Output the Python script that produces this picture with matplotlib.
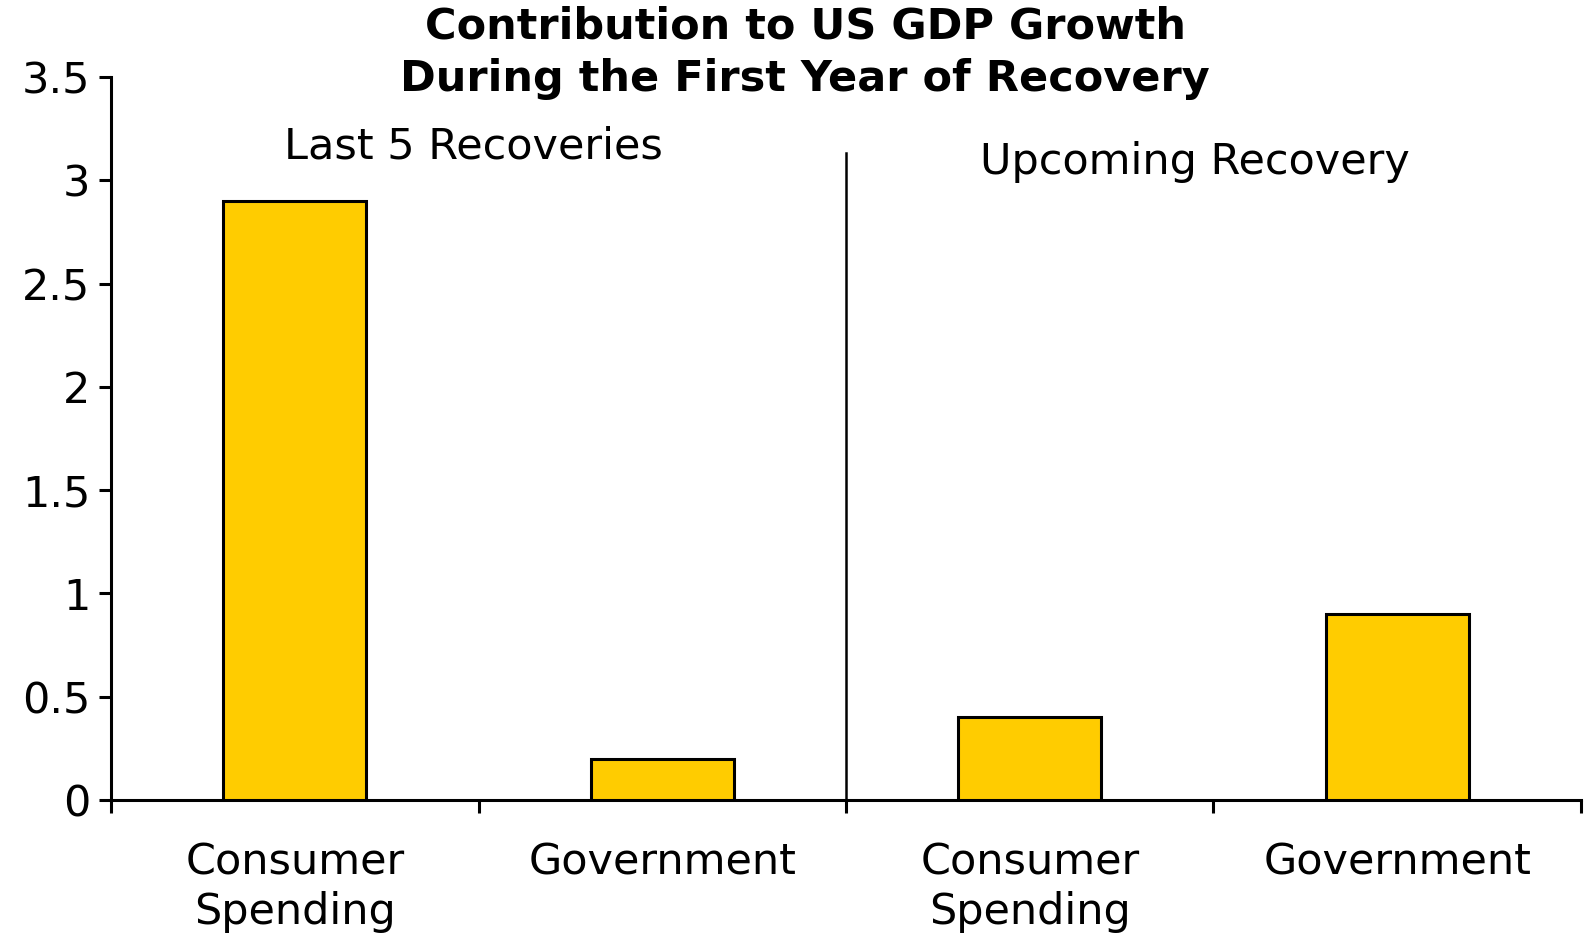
import matplotlib
matplotlib.use("Agg")
import matplotlib.pyplot as plt
import numpy as np

categories = ["Consumer\nSpending", "Government", "Consumer\nSpending", "Government"]
values = [2.9, 0.2, 0.4, 0.9]
groups = ["Last 5 Recoveries", "Upcoming Recovery"]
yticks = [0, 0.5, 1, 1.5, 2, 2.5, 3, 3.5]
ytick_labels = ["0", "0.5", "1", "1.5", "2", "2.5", "3", "3.5"]

plt.rcParams["font.family"] = "DejaVu Sans"

fig = plt.figure(figsize=(15.91, 9.36), dpi=100)
ax = fig.add_axes([0.0698, 0.1453, 0.9239, 0.7724])

x = np.arange(len(categories))
ax.bar(x, values, width=0.39, color="#FFCC00", edgecolor="black", linewidth=2.2, zorder=3)

ax.set_xlim(-0.5, len(categories) - 0.5)
ax.set_ylim(0, 3.5)
ax.set_yticks(yticks)
ax.set_yticklabels(ytick_labels, fontsize=31)

# подписи категорий по центру, засечки на границах
ax.set_xticks(x)
ax.set_xticklabels(categories, fontsize=31, linespacing=1.22)
ax.set_xticks(np.arange(-0.5, len(categories)), minor=True)
ax.tick_params(axis="x", which="major", length=0, pad=30)
ax.tick_params(axis="x", which="minor", length=9, width=2.2, direction="out")
ax.tick_params(axis="y", length=9, width=2.2, pad=6)

for side in ["top", "right"]:
    ax.spines[side].set_visible(False)
for side in ["left", "bottom"]:
    ax.spines[side].set_linewidth(2.2)

# разделитель между группами
ax.plot([1.5, 1.5], [0, 3.13], color="black", linewidth=1.8, clip_on=False)

ax.text(0.486, 3.165, groups[0], ha="center", va="center", fontsize=31)
ax.text(2.45, 3.087, groups[1], ha="center", va="center", fontsize=31)

fig.text(0.506, 0.994, "Contribution to US GDP Growth\nDuring the First Year of Recovery",
         ha="center", va="top", fontsize=31, fontweight="bold", linespacing=1.3)

fig.savefig("out.png", dpi=100)
